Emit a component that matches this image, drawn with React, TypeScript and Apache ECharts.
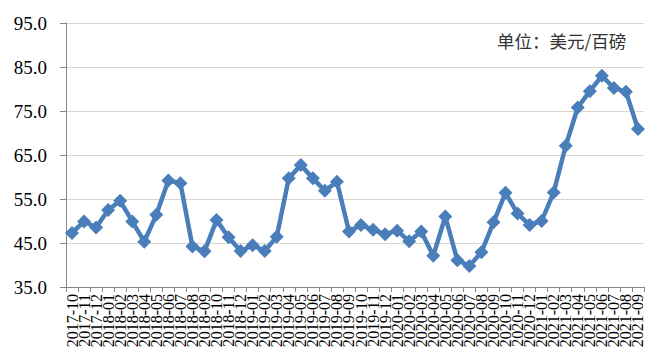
import React, { useEffect, useRef } from "react";
import * as echarts from "echarts";

const startYear = 2017;
const startMonth = 10;
const values: number[] = [
  47.3, 49.9, 48.5, 52.5, 54.6, 49.9, 45.3, 51.4, 59.2, 58.6, 44.2, 43.1,
  50.2, 46.3, 43.2, 44.5, 43.2, 46.4, 59.7, 62.7, 59.7, 56.9, 58.9, 47.6,
  49.1, 48.0, 47.0, 47.8, 45.4, 47.6, 42.1, 51.0, 41.1, 39.8, 42.9, 49.7,
  56.4, 51.7, 49.1, 50.0, 56.5, 67.1, 75.8, 79.5, 83.0, 80.2, 79.4, 70.9,
];
const categories: string[] = values.map((_, i) => {
  const m = startMonth - 1 + i;
  const y = startYear + Math.floor(m / 12);
  const mm = (m % 12) + 1;
  return `${y}-${mm < 10 ? "0" + mm : mm}`;
});
const unitLabel = "单位：美元/百磅";
const yMin = 35;
const yMax = 95;
const yInterval = 10;

export default function App() {
  const ref = useRef<HTMLDivElement>(null);
  useEffect(() => {
    if (!ref.current) return;
    const chart = echarts.init(ref.current, undefined, { renderer: "svg" });
    chart.setOption({
      animation: false,
      backgroundColor: "#ffffff",
      grid: { left: 66, right: 20, top: 23, bottom: 76 },
      graphic: [
        {
          type: "text",
          left: 497,
          top: 32,
          style: {
            text: unitLabel,
            fontSize: 17.5,
            fontFamily: "Noto Sans CJK SC",
            fill: "#333333",
          },
        },
      ],
      xAxis: {
        type: "category",
        data: categories,
        boundaryGap: true,
        axisLine: { lineStyle: { color: "#868686", width: 1 } },
        axisTick: { show: true, interval: 0, length: 5, lineStyle: { color: "#868686" } },
        axisLabel: {
          interval: 0,
          rotate: 90,
          fontFamily: "Liberation Serif",
          fontSize: 16,
          color: "#000000",
          margin: 7,
        },
      },
      yAxis: {
        type: "value",
        min: yMin,
        max: yMax,
        interval: yInterval,
        axisLine: { show: true, lineStyle: { color: "#868686", width: 1 } },
        axisTick: { show: true, length: 6, lineStyle: { color: "#868686" } },
        axisLabel: {
          formatter: (v: number) => v.toFixed(1),
          fontFamily: "Liberation Serif",
          fontSize: 19,
          color: "#000000",
          margin: 19,
        },
        splitLine: { lineStyle: { color: "#d9d6cc", width: 1 } },
      },
      series: [
        {
          type: "line",
          data: values,
          symbol: "diamond",
          symbolSize: 14,
          lineStyle: { color: "#4a7ebb", width: 4.5 },
          itemStyle: { color: "#4a7ebb" },
        },
      ],
    });
    return () => chart.dispose();
  }, []);
  return <div ref={ref} style={{ width: 664, height: 363, position: "absolute", left: 0, top: 0 }} />;
}
